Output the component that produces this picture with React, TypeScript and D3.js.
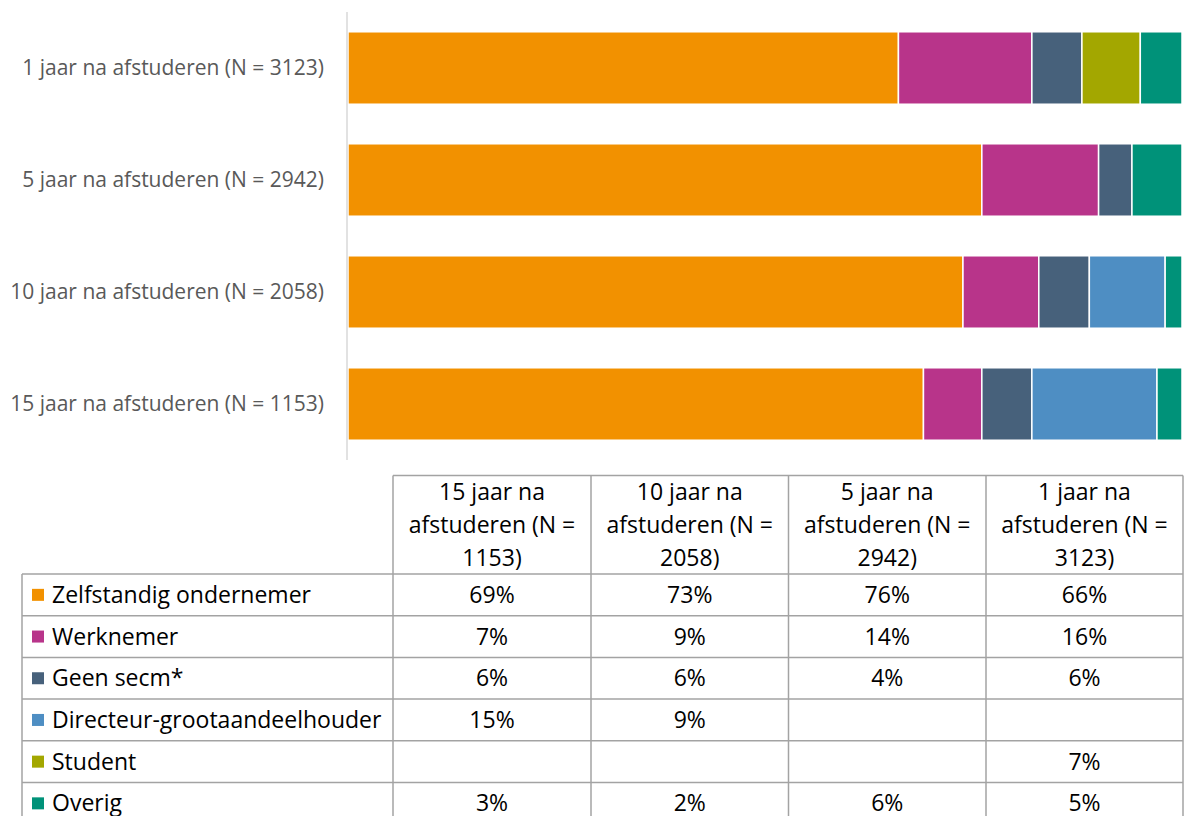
import React from "react";
import * as d3 from "d3";

// Bars (top to bottom)
const categories = [
  "1 jaar na afstuderen (N = 3123)",
  "5 jaar na afstuderen (N = 2942)",
  "10 jaar na afstuderen (N = 2058)",
  "15 jaar na afstuderen (N = 1153)",
];
// Table columns (left to right)
const tableColumns = [
  "15 jaar na afstuderen (N = 1153)",
  "10 jaar na afstuderen (N = 2058)",
  "5 jaar na afstuderen (N = 2942)",
  "1 jaar na afstuderen (N = 3123)",
];
const tableHeaderLines = [
  ["15 jaar na", "afstuderen (N =", "1153)"],
  ["10 jaar na", "afstuderen (N =", "2058)"],
  ["5 jaar na", "afstuderen (N =", "2942)"],
  ["1 jaar na", "afstuderen (N =", "3123)"],
];
const seriesNames = [
  "Zelfstandig ondernemer",
  "Werknemer",
  "Geen secm*",
  "Directeur-grootaandeelhouder",
  "Student",
  "Overig",
];
const seriesColors = ["#F29100", "#B8348A", "#47617B", "#4E8EC3", "#A3A700", "#009279"];
// values in table-column order: 15, 10, 5, 1 jaar
const zelfstandig = [69, 73, 76, 66];
const werknemer = [7, 9, 14, 16];
const geenSecm = [6, 6, 4, 6];
const dga = [15, 9, null, null];
const student = [null, null, null, 7];
const overig = [3, 2, 6, 5];
const seriesValues: (number | null)[][] = [zelfstandig, werknemer, geenSecm, dga, student, overig];

const FONT = "'Open Sans', 'Noto Sans', sans-serif";

export default function App() {
  const W = 1186, H = 816;
  const x0 = 348, x1 = 1182;
  const y = d3.scaleBand<string>().domain(categories).range([12, 460]).paddingInner(0.353).paddingOuter(0.1765);

  const rows = categories.map((c) => {
    const ci = tableColumns.indexOf(c);
    const r: any = { cat: c };
    seriesNames.forEach((s, si) => { r[s] = seriesValues[si][ci] ?? 0; });
    return r;
  });
  const stack = d3.stack<any>().keys(seriesNames).offset(d3.stackOffsetExpand)(rows);
  const x = d3.scaleLinear().domain([0, 1]).range([x0, x1]);

  // table geometry
  const colEdges = [393, 591, 788.5, 986, 1183];
  const labelLeft = 22;
  const headerTop = 475.5;
  const headerBottom = 574;
  const rowH = 41.7;
  const rowY = d3.range(seriesNames.length + 1).map((i) => headerBottom + i * rowH);
  const gridColor = "#A3A3A3";
  const fs = 23;

  return (
    <svg width={W} height={H} style={{ position: "absolute", left: 0, top: 0, display: "block" }} fontFamily={FONT}>
      <rect width={W} height={H} fill="#fff" />
      {/* bars */}
      {stack.map((layer, si) => (
        <g key={si} fill={seriesColors[si]}>
          {layer.map((d, i) => {
            const w = x(d[1]) - x(d[0]);
            if (w <= 0) return null;
            return (
              <rect key={i} x={x(d[0])} y={y(d.data.cat)} width={w} height={y.bandwidth()}
                stroke="#fff" strokeWidth={1.5} />
            );
          })}
        </g>
      ))}
      {/* axis */}
      <line x1={347} x2={347} y1={12} y2={460} stroke="#D9D9D9" strokeWidth={1.5} />
      {categories.map((c) => (
        <text key={c} x={324} y={(y(c) as number) + y.bandwidth() / 2} dy="0.35em" textAnchor="end"
          fontSize={21} fill="#595959">{c}</text>
      ))}
      {/* table */}
      <g stroke={gridColor} strokeWidth={1.5} fill="none">
        <line x1={colEdges[0]} x2={colEdges[4]} y1={headerTop} y2={headerTop} />
        {colEdges.map((cx, i) => (
          <line key={"hv" + i} x1={cx} x2={cx} y1={headerTop} y2={H + 10} />
        ))}
        <line x1={labelLeft} x2={labelLeft} y1={headerBottom} y2={H + 10} />
        {rowY.map((ry, i) => (
          <line key={"rh" + i} x1={labelLeft} x2={colEdges[4]} y1={ry} y2={ry} />
        ))}
      </g>
      {tableHeaderLines.map((lines, ci) => (
        <text key={"h" + ci} x={(colEdges[ci] + colEdges[ci + 1]) / 2} textAnchor="middle" fontSize={fs} fill="#000">
          {lines.map((l, li) => (
            <tspan key={li} x={(colEdges[ci] + colEdges[ci + 1]) / 2} y={500 + li * 33}>{l}</tspan>
          ))}
        </text>
      ))}
      {seriesNames.map((s, si) => {
        const cy = rowY[si] + rowH / 2;
        return (
          <g key={"r" + s}>
            <rect x={32} y={cy - 6} width={12} height={12} fill={seriesColors[si]} />
            <text x={52} y={cy} dy="0.35em" fontSize={fs} fill="#000">{s}</text>
            {tableColumns.map((c, ci) => {
              const v = seriesValues[si][ci];
              if (v == null) return null;
              return (
                <text key={c} x={(colEdges[ci] + colEdges[ci + 1]) / 2} y={cy} dy="0.35em" textAnchor="middle"
                  fontSize={fs} fill="#000">{v}%</text>
              );
            })}
          </g>
        );
      })}
    </svg>
  );
}
